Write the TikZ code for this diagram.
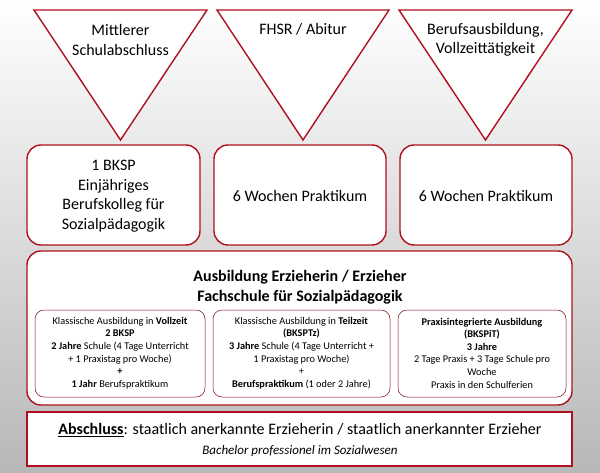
\documentclass[tikz,border=0pt]{standalone}
\usepackage{fontspec}
\setmainfont{Carlito}
\definecolor{rd}{HTML}{B0101E}
\begin{document}
\begin{tikzpicture}[x=1pt,y=-1pt,
 tri/.style={draw=rd,line width=1.4pt,fill=white},
 rbox/.style={draw=rd,line width=1.4pt,fill=white,rounded corners=14pt},
 ibox/.style={draw=rd!70!black,line width=0.5pt,fill=white,rounded corners=9pt},
 big/.style={font=\fontsize{16}{19.5}\selectfont,align=center},
 small/.style={font=\fontsize{10.3}{12.6}\selectfont,align=center}]
\shade[top color=white,bottom color=black!28] (0,0) rectangle (600,473);
\useasboundingbox (0,0) rectangle (600,473);
% triangles
\draw[tri] (34,10) -- (207,10) -- (120.5,140) -- cycle;
\draw[tri] (217,10) -- (389,10) -- (303,140) -- cycle;
\draw[tri] (399,10) -- (572,10) -- (485.5,140) -- cycle;
\node[big] (t1) at (120.5,40) {Mittlerer\\Schulabschluss};
\node[big] (t2) at (303,29) {FHSR / Abitur};
\node[big] (t3) at (485.5,40) {Berufsausbildung,\\Vollzeittätigkeit};
% row boxes
\draw[rbox] (27,145) rectangle (200,245);
\node[big] (b1) at (113.5,196) {1 BKSP\\Einjähriges\\Berufskolleg für\\Sozialpädagogik};
\draw[rbox] (214,145) rectangle (386,245);
\node[big] (b2) at (300,196) {6 Wochen Praktikum};
\draw[rbox] (400,145) rectangle (572,245);
\node[big] (b3) at (486,196) {6 Wochen Praktikum};
% big box
\draw[rbox] (27,251) rectangle (572,405);
\node[big,font=\bfseries\fontsize{16}{19.5}\selectfont] (h) at (300,287) {Ausbildung Erzieherin / Erzieher\\Fachschule für Sozialpädagogik};
\draw[ibox] (35,310) rectangle (205,397);
\node[small] (i1) at (120,353) {Klassische Ausbildung in \textbf{Vollzeit}\\\textbf{2 BKSP}\\\textbf{2 Jahre} Schule (4 Tage Unterricht\\+ 1 Praxistag pro Woche)\\\textbf{+}\\\textbf{1 Jahr} Berufspraktikum};
\draw[ibox] (213,310) rectangle (390,397);
\node[small] (i2) at (301.5,353) {Klassische Ausbildung in \textbf{Teilzeit}\\\textbf{(BKSPTz)}\\\textbf{3 Jahre} Schule (4 Tage Unterricht +\\1 Praxistag pro Woche)\\+\\\textbf{Berufspraktikum} (1 oder 2 Jahre)};
\draw[ibox] (398,310) rectangle (566,397);
\node[small] (i3) at (482,353) {\textbf{Praxisintegrierte Ausbildung}\\\textbf{(BKSPiT)}\\\textbf{3 Jahre}\\2 Tage Praxis + 3 Tage Schule pro\\Woche\\Praxis in den Schulferien};
% bottom
\draw[draw=rd,line width=1.4pt,fill=white] (27,412) rectangle (572,466);
\node[font=\fontsize{16}{19}\selectfont] (a1) at (300,430) {\textbf{\underline{Abschluss}}: staatlich anerkannte Erzieherin / staatlich anerkannter Erzieher};
\node[font=\itshape\fontsize{13}{15}\selectfont] (a2) at (300,451) {Bachelor professionel im Sozialwesen};
\end{tikzpicture}
\end{document}
